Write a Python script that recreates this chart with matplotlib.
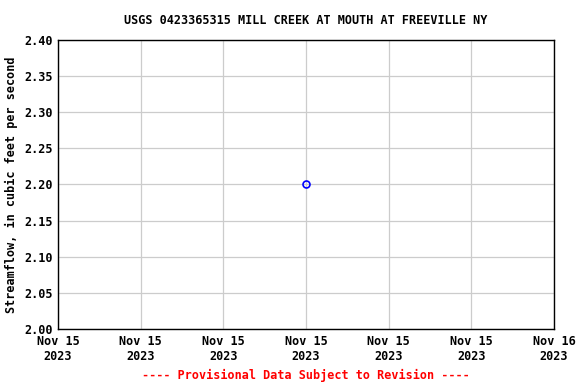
import datetime as dt
import matplotlib
matplotlib.use("Agg")
import matplotlib.pyplot as plt
import matplotlib.dates as mdates

# datos
fechas = [dt.datetime(2023, 11, 15, 12, 0)]
caudal = [2.20]
x_ini = dt.datetime(2023, 11, 15, 0, 0)
x_fin = dt.datetime(2023, 11, 16, 0, 0)
y_ticks = [2.00, 2.05, 2.10, 2.15, 2.20, 2.25, 2.30, 2.35, 2.40]
titulo = "USGS 0423365315 MILL CREEK AT MOUTH AT FREEVILLE NY"

plt.rcParams['font.family'] = ['DejaVu Sans Mono']
plt.rcParams['font.weight'] = 'bold'

fig = plt.figure(figsize=(5.76, 3.84), dpi=100)
ax = fig.add_axes([58/576, 1 - 329/384, (554-58)/576, (329-40)/384])

ax.plot(fechas, caudal, 'o', mfc='none', mec='blue', ms=5, mew=1.2)

ax.set_xlim(x_ini, x_fin)
ax.set_ylim(2.0, 2.4)
ax.set_yticks(y_ticks)
ax.set_yticklabels(["%.2f" % v for v in y_ticks], fontsize=8.5, fontweight='bold')
ax.xaxis.set_major_locator(mdates.HourLocator(byhour=[0, 4, 8, 12, 16, 20]))
ax.xaxis.set_major_formatter(mdates.DateFormatter("%b %d\n%Y"))
for t in ax.get_xticklabels():
    t.set_fontsize(8.5)
    t.set_fontweight('bold')
ax.tick_params(length=0, pad=4)
ax.grid(True, color='#cccccc', lw=0.9)
ax.set_axisbelow(True)
for s in ax.spines.values():
    s.set_linewidth(1.0)

ax.set_ylabel("Streamflow, in cubic feet per second", fontsize=8.5, fontweight='bold')
fig.text(306/576, 1 - 20/384, titulo, ha='center', va='center', fontsize=8.5, fontweight='bold')
fig.text(306/576, 1 - 375/384, "---- Provisional Data Subject to Revision ----",
         ha='center', va='center', fontsize=8.5, fontweight='bold', color='red')

fig.savefig("out.png", dpi=100)
